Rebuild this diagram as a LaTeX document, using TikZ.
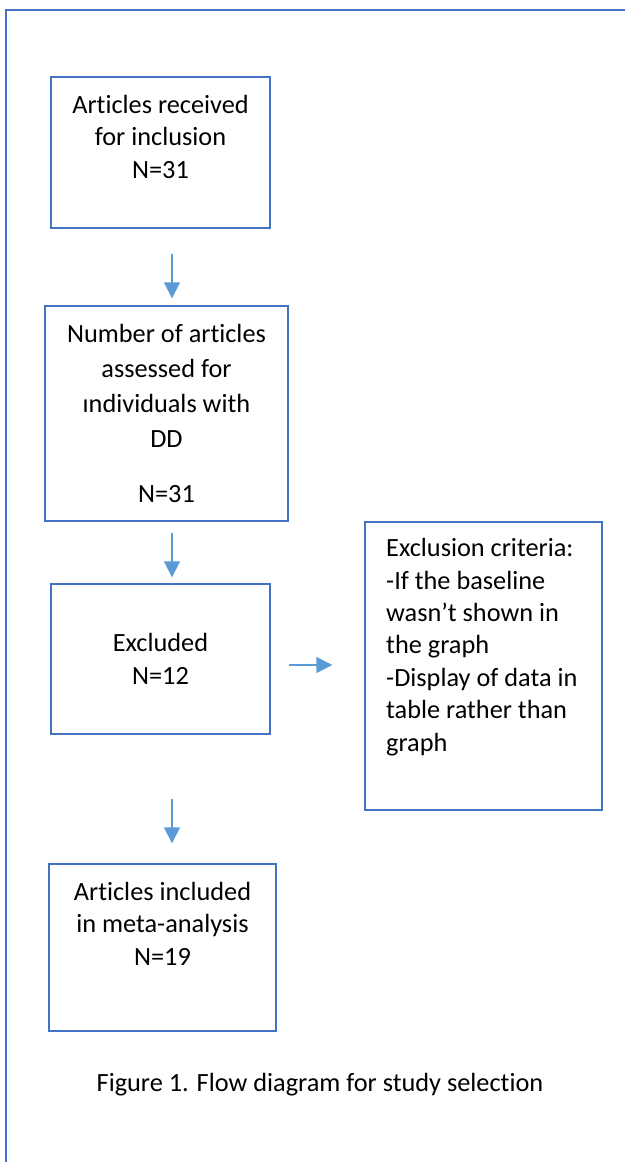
\documentclass[tikz,border=0pt]{standalone}
\usepackage{fontspec}
\setmainfont{Carlito}[Ligatures=NoCommon]
\usetikzlibrary{arrows.meta}
\definecolor{boxblue}{HTML}{4472C4}
\definecolor{arrblue}{HTML}{5B9BD5}
\tikzset{
	flowbox/.style={draw=boxblue, line width=1.3pt, inner sep=0pt},
	flowtxt/.style={inner sep=0pt, align=center, anchor=base,
		font=\fontsize{26.3pt}{32.4pt}\selectfont},
	flowarr/.style={draw=arrblue, line width=1.3pt, -{Triangle[length=16pt, width=16pt]}}
}
\begin{document}
\begin{tikzpicture}[x=1pt, y=-1pt]
	%\draw[help lines] (0,0) grid (625,1162);
	\useasboundingbox (0,0) rectangle (625,1162);
	\draw [boxblue, line width=1.3pt] (6,1162) -- (6,10) -- (625,10);
	
	% text nodes sit on the baseline of their last line
	\node [flowbox, minimum width=219pt, minimum height=151pt] (received) at (160.5,152.5) {};
	\node [flowtxt] (receivedtxt) at (160.5,178) {Articles received\\for inclusion\\N=31};
	
	\node [flowbox, minimum width=243pt, minimum height=215pt] (assessed) at (166.5,413.5) {};
	\node [flowtxt, font=\fontsize{26.3pt}{35pt}\selectfont] (assessedtxt) at (166.5,502)
		{Number of articles\\assessed for\\ındividuals with\\DD\\[20pt]N=31};
	
	\node [flowbox, minimum width=219pt, minimum height=150pt] (excluded) at (160.5,659) {};
	\node [flowtxt] (excludedtxt) at (160.5,684) {Excluded\\N=12};
	
	\node [flowbox, minimum width=237pt, minimum height=288pt] (criteria) at (483.5,666) {};
	\node [flowtxt, align=left, anchor=base west] (criteriatxt) at (386,751)
		{Exclusion criteria:\\-If the baseline\\wasn’t shown in\\the graph\\-Display of data in\\table rather than\\graph};
	
	\node [flowbox, minimum width=227pt, minimum height=167pt] (included) at (162.5,947.5) {};
	\node [flowtxt] (includedtxt) at (162.5,965) {Articles included\\in meta-analysis\\N=19};
	
	\node [flowtxt] (caption) at (320,1091) {Figure 1. Flow diagram for study selection};
	
	\draw [flowarr, shorten <=25pt, shorten >=7pt] ([xshift=11.5pt]received.south) -- ([xshift=5.5pt]assessed.north);
	\draw [flowarr, shorten <=11pt, shorten >=6pt] ([xshift=5.5pt]assessed.south) -- ([xshift=11.5pt]excluded.north);
	\draw [flowarr, shorten <=18pt, shorten >=32pt] ([yshift=-6pt]excluded.east) -- ([yshift=1pt]criteria.west);
	\draw [flowarr, shorten <=64pt, shorten >=20pt] ([xshift=11.5pt]excluded.south) -- ([xshift=9.5pt]included.north);
\end{tikzpicture}
\end{document}
